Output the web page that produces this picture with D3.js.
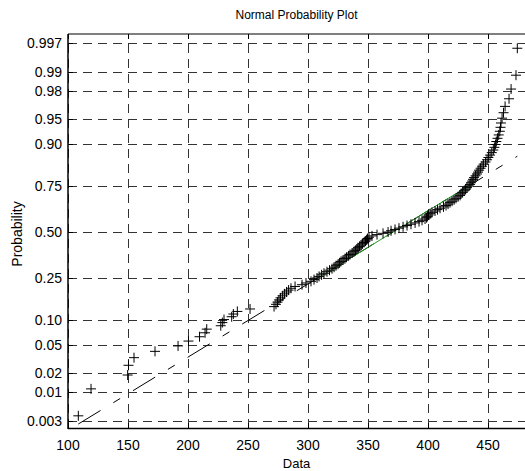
<!DOCTYPE html>
<html>
<head>
<meta charset="utf-8">
<script src="https://cdn.jsdelivr.net/npm/d3@7"></script>
<style>
  body { margin: 0; background: #fff; }
  text { font-family: Arial, "Liberation Sans", sans-serif; fill: #000; }
</style>
</head>
<body>
<div id="chart"></div>
<script>
// sorted sample values
const sampleValues = [
  108.6, 119.2, 149.7, 150.4, 155.0, 172.5, 191.7, 200.4, 209.6, 214.2,
  215.6, 227.3, 228.6, 230.0, 236.4, 237.8, 241.1, 251.7, 271.7, 273.3,
  274.6, 275.8, 277.1, 278.8, 280.4, 282.1, 283.8, 285.8, 289.2, 295.0,
  298.3, 302.5, 305.0, 307.5, 309.2, 311.3, 313.3, 315.8, 317.9, 320.0,
  321.7, 323.3, 325.0, 326.3, 327.5, 329.2, 330.8, 332.1, 333.8, 335.0,
  336.7, 338.3, 339.6, 340.8, 341.7, 342.9, 344.2, 345.4, 346.7, 347.9,
  348.8, 349.6, 350.8, 353.3, 357.5, 362.5, 366.7, 369.2, 372.5, 375.8,
  379.2, 382.5, 385.8, 389.2, 392.5, 395.0, 397.5, 398.8, 399.6, 400.4,
  401.7, 403.3, 405.8, 407.9, 410.0, 412.9, 415.0, 416.7, 418.3, 420.0,
  421.7, 423.3, 425.0, 426.7, 427.5, 428.8, 430.0, 431.3, 432.5, 434.2,
  435.0, 435.8, 436.7, 437.5, 438.3, 439.6, 440.8, 441.7, 442.5, 443.8,
  445.0, 446.3, 447.9, 449.2, 450.3, 451.7, 453.1, 454.4, 455.3, 456.3,
  456.9, 457.9, 458.9, 459.8, 460.4, 460.8, 461.7, 462.9, 464.2, 467.5,
  469.2, 473.3, 474.4
]
const xTicks = [100, 150, 200, 250, 300, 350, 400, 450]
const probTicks = [0.003, 0.01, 0.02, 0.05, 0.10, 0.25, 0.50, 0.75, 0.90, 0.95, 0.98, 0.99, 0.997]
const probLabels = ["0.003", "0.01", "0.02", "0.05", "0.10", "0.25", "0.50", "0.75", "0.90", "0.95", "0.98", "0.99", "0.997"]

// inverse normal cdf (Acklam)
function norminv(p){
  const a = [-3.969683028665376e+01, 2.209460984245205e+02, -2.759285104469687e+02, 1.383577518672690e+02, -3.066479806614716e+01, 2.506628277459239e+00]
  const b = [-5.447609879822406e+01, 1.615858368580409e+02, -1.556989798598866e+02, 6.680131188771972e+01, -1.328068155288572e+01]
  const c = [-7.784894002430293e-03, -3.223964580411365e-01, -2.400758277161838e+00, -2.549732539343734e+00, 4.374664141464968e+00, 2.938163982698783e+00]
  const d = [7.784695709041462e-03, 3.224671290700398e-01, 2.445134137142996e+00, 3.754408661907416e+00]
  const pl = 0.02425
  let q, r
  if (p < pl){
    q = Math.sqrt(-2*Math.log(p))
    return (((((c[0]*q+c[1])*q+c[2])*q+c[3])*q+c[4])*q+c[5]) / ((((d[0]*q+d[1])*q+d[2])*q+d[3])*q+1)
  } else if (p <= 1-pl){
    q = p-0.5; r = q*q
    return (((((a[0]*r+a[1])*r+a[2])*r+a[3])*r+a[4])*r+a[5])*q / (((((b[0]*r+b[1])*r+b[2])*r+b[3])*r+b[4])*r+1)
  }
  q = Math.sqrt(-2*Math.log(1-p))
  return -(((((c[0]*q+c[1])*q+c[2])*q+c[3])*q+c[4])*q+c[5]) / ((((d[0]*q+d[1])*q+d[2])*q+d[3])*q+1)
}

const W = 525, H = 471
const M = {left: 68, right: 525, top: 34, bottom: 428}

const svg = d3.select("#chart").append("svg").attr("width", W).attr("height", H)

const x = d3.scaleLinear().domain([100, 480.8]).range([M.left, M.right])
const y = d3.scaleLinear().domain([-2.85, 2.88]).range([M.bottom, M.top])

const n = sampleValues.length
const points = sampleValues.map((v, i) => ({v: v, z: norminv((i + 0.5) / n)}))

// grid
const grid = svg.append("g").attr("stroke", "#333").attr("stroke-width", 1).attr("stroke-dasharray", "9,6").attr("fill", "none")
grid.selectAll(".vg").data(xTicks).enter().append("line")
  .attr("x1", d => Math.round(x(d)) + 0.5).attr("x2", d => Math.round(x(d)) + 0.5)
  .attr("y1", M.bottom).attr("y2", M.top)
grid.selectAll(".hg").data(probTicks).enter().append("line")
  .attr("x1", M.left).attr("x2", M.right)
  .attr("y1", d => Math.round(y(norminv(d))) + 0.5).attr("y2", d => Math.round(y(norminv(d))) + 0.5)

// reference line through quartiles
const q1 = d3.quantile(sampleValues, 0.25), q3 = d3.quantile(sampleValues, 0.75)
const zq1 = norminv(0.25), zq3 = norminv(0.75)
const slope = (zq3 - zq1) / (q3 - q1)
const fitZ = v => zq1 + (v - q1) * slope
const vmin = d3.min(sampleValues), vmax = d3.max(sampleValues)

svg.append("line")
  .attr("x1", x(vmin)).attr("y1", y(fitZ(vmin)))
  .attr("x2", x(vmax)).attr("y2", y(fitZ(vmax)))
  .attr("stroke", "#000").attr("stroke-width", 1).attr("stroke-dasharray", "26,15,8,15")
svg.append("line")
  .attr("x1", x(q1)).attr("y1", y(fitZ(q1)))
  .attr("x2", x(q3)).attr("y2", y(fitZ(q3)))
  .attr("stroke", "#1f9a1f").attr("stroke-width", 1)

// markers
svg.append("g").selectAll("path").data(points).enter().append("path")
  .attr("transform", d => `translate(${x(d.v)},${y(d.z)})`)
  .attr("d", "M-5,0H5M0,-5V5")
  .attr("stroke", "#000").attr("stroke-width", 1).attr("fill", "none")

// axes box
const axes = svg.append("g").attr("stroke", "#000").attr("fill", "none")
axes.append("line").attr("x1", M.left).attr("x2", M.left).attr("y1", M.top).attr("y2", M.bottom + 1).attr("stroke-width", 1.5)
axes.append("line").attr("x1", M.left).attr("x2", M.right).attr("y1", M.bottom + 0.5).attr("y2", M.bottom + 0.5).attr("stroke-width", 1.5)
axes.append("line").attr("x1", M.left).attr("x2", M.right).attr("y1", M.top).attr("y2", M.top).attr("stroke-width", 1.2)

// ticks
axes.selectAll(".xt").data(xTicks).enter().append("path")
  .attr("d", d => { const px = Math.round(x(d)) + 0.5; return `M${px},${M.bottom}V${M.bottom - 5}M${px},${M.top}V${M.top + 5}` })
axes.selectAll(".yt").data(probTicks).enter().append("path")
  .attr("d", d => { const py = Math.round(y(norminv(d))) + 0.5; return `M${M.left},${py}H${M.left + 5}` })

// tick labels
svg.append("g").selectAll("text").data(xTicks).enter().append("text")
  .attr("x", d => x(d)).attr("y", 450)
  .attr("text-anchor", "middle").attr("font-size", 14)
  .text(d => d)
svg.append("g").selectAll("text").data(probTicks).enter().append("text")
  .attr("x", 62).attr("y", d => y(norminv(d)))
  .attr("dy", "0.36em")
  .attr("text-anchor", "end").attr("font-size", 14)
  .text((d, i) => probLabels[i])

// labels
svg.append("text").attr("x", (M.left + M.right) / 2).attr("y", 19)
  .attr("text-anchor", "middle").attr("font-size", 12).text("Normal Probability Plot")
svg.append("text").attr("x", (M.left + M.right) / 2).attr("y", 468)
  .attr("text-anchor", "middle").attr("font-size", 13).text("Data")
svg.append("text").attr("transform", "translate(22,234) rotate(-90)")
  .attr("text-anchor", "middle").attr("font-size", 14).text("Probability")
</script>
</body>
</html>
